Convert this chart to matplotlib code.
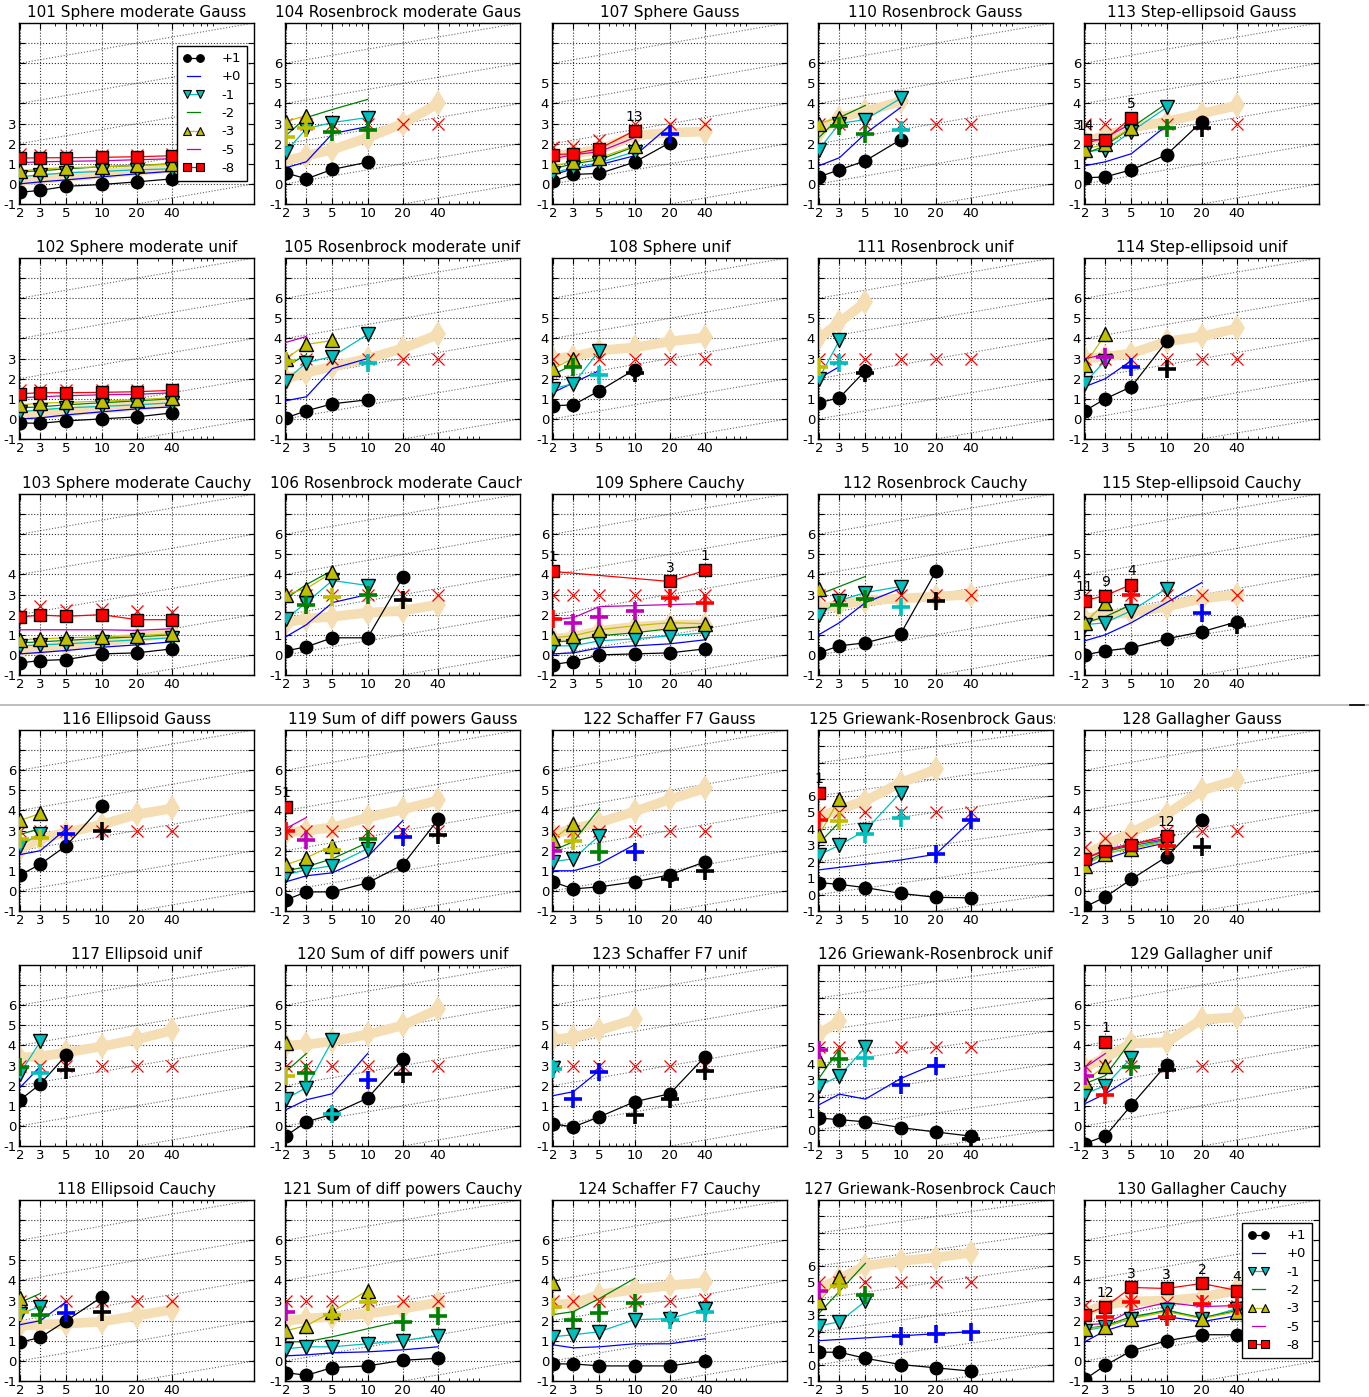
import numpy as np
import matplotlib
matplotlib.use("Agg")
import matplotlib.pyplot as plt
from matplotlib.lines import Line2D
from matplotlib.ticker import NullFormatter
from matplotlib.transforms import Bbox, TransformedBbox

N = None

DIMS = [2, 3, 5, 10, 20, 40]
TARGETS = ["+1", "+0", "-1", "-2", "-3", "-5", "-8"]
TARGET_COLORS = ["k", "b", "c", "g", "y", "m", "r"]
TARGET_MARKERS = ["o", None, "v", None, "^", None, "s"]

GRID_LAYOUT = [
    [101, 104, 107, 110, 113],
    [102, 105, 108, 111, 114],
    [103, 106, 109, 112, 115],
    [116, 119, 122, 125, 128],
    [117, 120, 123, 126, 129],
    [118, 121, 124, 127, 130],
]

TITLES = {
    101: "101 Sphere moderate Gauss", 102: "102 Sphere moderate unif",
    103: "103 Sphere moderate Cauchy", 104: "104 Rosenbrock moderate Gauss",
    105: "105 Rosenbrock moderate unif", 106: "106 Rosenbrock moderate Cauchy",
    107: "107 Sphere Gauss", 108: "108 Sphere unif", 109: "109 Sphere Cauchy",
    110: "110 Rosenbrock Gauss", 111: "111 Rosenbrock unif",
    112: "112 Rosenbrock Cauchy", 113: "113 Step-ellipsoid Gauss",
    114: "114 Step-ellipsoid unif", 115: "115 Step-ellipsoid Cauchy",
    116: "116 Ellipsoid Gauss", 117: "117 Ellipsoid unif",
    118: "118 Ellipsoid Cauchy", 119: "119 Sum of diff powers Gauss",
    120: "120 Sum of diff powers unif", 121: "121 Sum of diff powers Cauchy",
    122: "122 Schaffer F7 Gauss", 123: "123 Schaffer F7 unif",
    124: "124 Schaffer F7 Cauchy", 125: "125 Griewank-Rosenbrock Gauss",
    126: "126 Griewank-Rosenbrock unif", 127: "127 Griewank-Rosenbrock Cauchy",
    128: "128 Gallagher Gauss", 129: "129 Gallagher unif",
    130: "130 Gallagher Cauchy",
}

# upper y limit (log10 of ERT/dim) and highest labelled tick
YLIM_TOP = {fid: 8 for fid in TITLES}
YLIM_TOP.update({125: 10, 126: 10, 127: 10})
YLABEL_TOP = {
    101: 3, 102: 3, 103: 4, 104: 6, 105: 6, 106: 6, 107: 5, 108: 5, 109: 6,
    110: 6, 111: 5, 112: 6, 113: 6, 114: 6, 115: 5, 116: 6, 117: 6, 118: 5,
    119: 6, 120: 6, 121: 6, 122: 6, 123: 5, 124: 6, 125: 6, 126: 5, 127: 6,
    128: 5, 129: 6, 130: 5,
}

# log10(ERT / dim) per target precision, at dims 2, 3, 5, 10, 20, 40
ERT_P1 = {
    101: [-0.42, -0.32, -0.12, -0.03, 0.1, 0.25],
    102: [-0.2, -0.22, -0.1, 0.0, 0.1, 0.3],
    103: [-0.4, -0.28, -0.23, 0.05, 0.1, 0.3],
    104: [0.55, 0.25, 0.72, 1.08, N, N],
    105: [0.05, 0.4, 0.75, 0.95, N, N],
    106: [0.2, 0.4, 0.85, 0.85, 3.85, N],
    107: [0.13, 0.47, 0.52, 1.08, 2.05, N],
    108: [0.65, 0.7, 1.4, 2.45, N, N],
    109: [-0.48, -0.33, 0.0, 0.05, 0.1, 0.3],
    110: [0.35, 0.7, 1.15, 2.2, N, N],
    111: [0.8, 1.05, 2.4, N, N, N],
    112: [0.1, 0.45, 0.6, 1.05, 4.15, N],
    113: [0.3, 0.35, 0.7, 1.45, 3.1, N],
    114: [0.4, 1.0, 1.6, 3.85, N, N],
    115: [0.0, 0.2, 0.35, 0.8, 1.15, 1.65],
    116: [0.78, 1.33, 2.25, 4.2, N, N],
    117: [1.28, 2.08, 3.53, N, N, N],
    118: [0.92, 1.17, 2.0, 3.17, N, N],
    119: [-0.45, -0.05, -0.05, 0.4, 1.3, 3.55],
    120: [-0.5, 0.2, 0.58, 1.38, 3.33, N],
    121: [-0.58, -0.72, -0.33, -0.25, 0.03, 0.13],
    122: [0.45, 0.1, 0.2, 0.45, 0.8, 1.45],
    123: [0.1, -0.05, 0.45, 1.2, 1.6, 3.45],
    124: [-0.15, -0.15, -0.25, -0.25, -0.25, 0.0],
    125: [0.72, 0.62, 0.42, 0.07, -0.17, -0.2],
    126: [0.7, 0.6, 0.47, 0.12, -0.15, -0.4],
    127: [0.75, 0.75, 0.38, 0.0, -0.2, -0.4],
    128: [-0.8, -0.3, 0.58, 1.7, 3.5, N],
    129: [-0.88, -0.5, 1.03, 3.05, N, N],
    130: [-0.92, -0.22, 0.5, 1.0, 1.3, 1.3],
}
ERT_P0 = {
    101: [0.0, 0.1, 0.2, 0.35, 0.5, 0.63],
    102: [0.0, 0.05, 0.2, 0.35, 0.5, 0.6],
    103: [0.05, 0.12, 0.22, 0.38, 0.5, 0.65],
    104: [0.8, 1.1, 2.5, 2.85, N, N],
    105: [0.9, 1.1, 2.5, 3.0, N, N],
    106: [0.9, 1.5, 2.6, 3.0, N, N],
    107: [0.45, 0.75, 0.95, 1.4, 2.9, N],
    108: [1.3, 1.8, 2.4, N, N, N],
    109: [0.05, 0.1, 0.35, 0.45, 0.55, 0.75],
    110: [0.9, 1.3, 2.5, 3.8, N, N],
    111: [2.0, 2.6, N, N, N, N],
    112: [1.0, 1.6, 2.6, 3.3, N, N],
    113: [0.9, 1.1, 1.5, 2.9, N, N],
    114: [1.6, 2.0, 2.9, N, N, N],
    115: [0.7, 1.0, 1.6, 2.6, 3.6, N],
    116: [1.8, 2.0, 3.1, N, N, N],
    117: [1.9, 2.95, N, N, N, N],
    118: [1.8, 2.0, 2.95, N, N, N],
    119: [0.45, 0.75, 0.9, 1.7, 3.5, N],
    120: [0.8, 1.3, 1.6, 3.6, N, N],
    121: [0.25, 0.3, 0.4, 0.45, 0.55, 0.7],
    122: [1.0, 1.0, 1.35, 2.3, N, N],
    123: [1.5, 1.7, 2.75, N, N, N],
    124: [0.8, 0.65, 0.7, 0.85, 0.85, 1.1],
    125: [1.5, N, N, 2.1, 2.45, 4.5],
    126: [1.5, 2.15, 1.85, 3.1, 4.0, N],
    127: [1.45, N, N, N, N, 2.0],
    128: [1.15, 1.6, 2.0, 2.4, N, N],
    129: [1.1, 1.6, 2.4, N, N, N],
    130: [0.95, 1.5, 1.9, 2.2, 1.95, 2.25],
}
ERT_M1 = {
    101: [0.35, 0.45, 0.55, 0.62, 0.7, 0.75],
    102: [0.35, 0.45, 0.55, 0.62, 0.7, 0.8],
    103: [0.45, 0.5, 0.55, 0.65, 0.75, 0.85],
    104: [1.6, 2.75, 3.05, 3.3, N, N],
    105: [1.9, 2.8, 3.1, 4.2, N, N],
    106: [1.8, 2.6, 3.7, 3.45, N, N],
    107: [0.55, 0.8, 1.05, 1.6, N, N],
    108: [1.5, 1.75, 3.4, N, N, N],
    109: [0.45, 0.45, 0.7, 0.8, 0.95, 1.1],
    110: [1.7, 3.0, 3.2, 4.25, N, N],
    111: [2.0, 3.9, N, N, N, N],
    112: [2.0, 2.7, 3.1, 3.4, N, N],
    113: [1.6, 1.7, 2.6, 3.8, N, N],
    114: [1.8, 2.9, N, N, N, N],
    115: [1.5, 1.6, 2.2, 3.3, N, N],
    116: [2.25, 2.85, N, N, N, N],
    117: [2.6, 4.2, N, N, N, N],
    118: [2.35, 2.7, N, N, N, N],
    119: [0.8, 1.05, 1.25, 2.1, N, N],
    120: [1.35, 1.9, 4.25, N, N, N],
    121: [0.6, 0.7, 0.7, 0.85, 1.0, 1.25],
    122: [1.45, 1.6, 2.75, N, N, N],
    123: [2.9, N, N, N, N, N],
    124: [1.2, 1.3, 1.45, 2.05, 2.1, 2.6],
    125: [2.4, 3.0, 3.9, 6.2, N, N],
    126: [2.65, 3.25, 5.0, N, N, N],
    127: [2.35, 2.6, 3.85, N, N, N],
    128: [1.3, 1.85, 2.15, 2.5, N, N],
    129: [1.6, 2.0, 3.4, N, N, N],
    130: [1.5, 1.7, 2.1, 2.55, 2.1, 2.6],
}
ERT_M2 = {
    101: [0.6, 0.65, 0.75, 0.85, 0.92, 1.0],
    102: [0.55, 0.6, 0.7, 0.8, 0.9, 1.0],
    103: [0.6, 0.65, 0.72, 0.82, 0.9, 1.0],
    104: [2.4, 3.3, 3.7, 4.2, N, N],
    105: [2.6, 3.2, N, N, N, N],
    106: [2.8, 3.5, 4.2, N, N, N],
    107: [0.75, 1.0, 1.2, 1.85, N, N],
    108: [2.2, 2.7, N, N, N, N],
    109: [0.65, 0.7, 0.95, 1.1, 1.3, 1.4],
    110: [2.3, 3.3, 3.9, N, N, N],
    112: [3.0, 3.4, 3.9, N, N, N],
    113: [1.5, 1.9, 2.8, 4.0, N, N],
    115: [1.6, 1.9, 2.5, N, N, N],
    116: [2.8, 3.1, N, N, N, N],
    117: [2.9, N, N, N, N, N],
    118: [2.9, 3.35, N, N, N, N],
    119: [1.0, 1.2, 1.6, 2.4, N, N],
    120: [2.7, 3.6, N, N, N, N],
    121: [0.95, 0.95, 1.2, 1.6, 2.0, N],
    122: [2.0, 2.45, 4.1, N, N, N],
    124: [2.3, 2.45, 3.1, 4.1, N, N],
    125: [3.1, 4.4, N, N, N, N],
    126: [3.1, 4.9, N, N, N, N],
    127: [3.1, N, 6.15, N, N, N],
    128: [1.4, 1.95, 2.25, 2.55, N, N],
    129: [2.1, 2.5, 4.25, N, N, N],
    130: [1.6, 1.75, 2.2, 2.5, 2.15, 2.5],
}
ERT_M3 = {
    101: [0.62, 0.75, 0.8, 0.85, 0.92, 0.97],
    102: [0.7, 0.78, 0.82, 0.88, 0.95, 1.05],
    103: [0.75, 0.8, 0.85, 0.9, 0.95, 1.05],
    104: [3.1, 3.4, N, N, N, N],
    105: [3.0, 3.7, 3.9, N, N, N],
    106: [3.0, 3.3, 4.1, N, N, N],
    107: [0.9, 1.1, 1.3, 1.9, N, N],
    108: [2.5, 3.0, N, N, N, N],
    109: [0.85, 0.95, 1.25, 1.45, 1.6, 1.55],
    110: [3.0, 3.3, N, N, N, N],
    112: [3.3, N, N, N, N, N],
    113: [1.7, 2.0, 2.8, N, N, N],
    114: [2.7, 4.2, N, N, N, N],
    115: [1.6, 2.6, N, N, N, N],
    116: [3.5, 3.85, N, N, N, N],
    118: [3.15, N, N, N, N, N],
    119: [1.3, 1.65, 2.25, N, N, N],
    120: [4.1, N, N, N, N, N],
    121: [1.5, 1.75, 2.45, 3.5, N, N],
    122: [2.55, 3.35, N, N, N, N],
    124: [3.85, N, N, N, N, N],
    125: [3.6, 5.8, N, N, N, N],
    126: [4.25, N, N, N, N, N],
    127: [3.8, 5.3, N, N, N, N],
    128: [1.25, 1.85, 2.1, 2.45, N, N],
    129: [2.2, 3.0, N, N, N, N],
    130: [1.6, 1.7, 2.1, 2.45, 2.1, 2.45],
}
ERT_M5 = {
    101: [1.05, 1.1, 1.12, 1.15, 1.2, 1.25],
    102: [1.05, 1.1, 1.15, 1.2, 1.22, 1.3],
    103: [1.25, 1.25, 1.25, 1.25, 1.22, 1.3],
    105: [3.8, 4.1, N, N, N, N],
    107: [1.25, 1.45, 1.6, 2.3, N, N],
    109: [1.75, 1.85, 2.4, 2.45, 2.5, 2.55],
    113: [2.0, 2.3, 3.0, N, N, N],
    114: [3.0, 3.2, N, N, N, N],
    119: [3.1, 3.65, N, N, N, N],
    128: [1.6, 2.05, 2.35, 2.6, N, N],
    129: [2.9, 3.6, N, N, N, N],
    130: [1.8, 1.85, 2.5, 2.9, 2.7, 2.75],
}
ERT_M8 = {
    101: [1.28, 1.3, 1.3, 1.32, 1.35, 1.4],
    102: [1.25, 1.3, 1.3, 1.32, 1.35, 1.42],
    103: [1.88, 1.98, 1.92, 2.0, 1.75, 1.75],
    107: [1.45, 1.5, 1.75, 2.65, N, N],
    109: [4.15, N, N, N, 3.65, 4.2],
    113: [2.2, 2.2, 3.3, N, N, N],
    115: [2.7, 2.95, 3.5, N, N, N],
    119: [4.15, N, N, N, N, N],
    125: [6.2, N, N, N, N, N],
    128: [1.6, 2.0, 2.3, 2.75, N, N],
    129: [N, 4.15, N, N, N, N],
    130: [2.3, 2.7, 3.65, 3.6, 3.85, 3.5],
}

# best 2009 result for precision 1e-8
BEST_2009 = {
    101: [0.15, 0.25, 0.35, 0.5, 0.65, 0.8],
    102: [0.15, 0.25, 0.35, 0.5, 0.65, 0.8],
    103: [0.2, 0.3, 0.45, 0.65, 0.85, 1.1],
    104: [1.15, 1.4, 1.7, 2.3, 3.0, 4.0],
    105: [2.0, 2.3, 2.6, 3.0, 3.5, 4.2],
    106: [1.6, 1.8, 1.9, 2.1, 2.2, 2.5],
    107: [1.4, 1.5, 1.7, 2.4, 2.55, 2.6],
    108: [3.0, 3.1, 3.4, 3.55, 3.85, 4.05],
    109: [0.8, 0.9, 1.2, 1.4, 1.5, 1.5],
    110: [2.6, 3.3, 3.6, 4.1, N, N],
    111: [4.0, 4.8, 5.8, N, N, N],
    112: [2.3, 2.5, 2.7, 2.8, 2.9, 3.0],
    113: [2.1, 2.4, 2.8, 3.1, 3.5, 3.9],
    114: [3.0, 3.1, 3.25, 3.85, 4.1, 4.5],
    115: [1.8, 2.0, 2.1, 2.4, 2.8, 3.0],
    116: [2.1, 2.6, 2.9, 3.3, 3.8, 4.1],
    117: [3.4, 3.45, 3.65, 3.95, 4.3, 4.75],
    118: [1.75, 1.8, 1.85, 1.95, 2.25, 2.55],
    119: [2.9, 3.0, 3.15, 3.65, 4.05, 4.5],
    120: [4.0, 4.05, 4.2, 4.55, 5.0, 5.8],
    121: [2.0, 2.1, 2.2, 2.35, 2.6, 2.9],
    122: [2.8, 3.1, 3.4, 3.95, 4.55, 5.1],
    123: [4.3, 4.4, 4.75, 5.3, N, N],
    124: [2.8, 2.85, 3.3, 3.55, 3.75, 3.9],
    125: [4.7, 5.2, 5.7, 6.8, 7.6, N],
    126: [5.8, 6.6, N, N, N, N],
    127: [4.6, 5.2, 6.0, 6.3, 6.5, 6.8],
    128: [1.8, 2.3, 2.9, 3.8, 5.0, 5.5],
    129: [2.9, 3.4, 4.1, 4.15, 5.3, 5.4],
    130: [2.4, 2.8, 2.95, 3.0, 3.15, 3.55],
}

# maximum number of evaluations in any trial (x marks)
MAX_EVALS = {fid: [3.0] * 6 for fid in TITLES}
MAX_EVALS.update({
    101: [1.5, 1.45, 1.45, 1.45, 1.45, 1.5],
    102: [1.45, 1.45, 1.45, 1.45, 1.45, 1.5],
    103: [2.05, 2.45, 2.25, 2.3, 2.2, 2.15],
    107: [1.85, 1.9, 2.2, 3.0, 3.0, 3.0],
    124: [3.0, 3.0, 3.0, 3.0, 3.0, 3.1],
    125: [5.0] * 6, 126: [5.0] * 6, 127: [5.0] * 6,
    128: [2.2, 2.65, 2.65, 3.0, 3.0, 3.0],
    130: [2.8, 2.75, 3.0, 2.95, 3.0, 2.75],
})

# median run length for the hardest partially reached target: (dim, value, target)
MEDIAN_PARTIAL = {
    104: [(2, 2.35, "-3"), (3, 2.8, "-3"), (5, 2.6, "-2"), (10, 2.7, "-2")],
    105: [(2, 2.9, "-3"), (10, 2.8, "-1")],
    106: [(3, 2.5, "-2"), (5, 2.9, "-3"), (10, 3.0, "-2"), (20, 2.75, "+1")],
    107: [(20, 2.5, "+0")],
    108: [(3, 2.6, "-2"), (5, 2.2, "-1"), (10, 2.3, "+1")],
    109: [(2, 1.8, "-8"), (3, 1.6, "-5"), (5, 1.9, "-5"), (10, 2.2, "-5"),
          (20, 2.85, "-8"), (40, 2.6, "-8")],
    110: [(3, 2.9, "-2"), (5, 2.5, "-2"), (10, 2.7, "-1")],
    111: [(2, 2.6, "-3"), (3, 2.8, "-1"), (5, 2.3, "+1")],
    112: [(3, 2.5, "-2"), (5, 2.8, "-2"), (10, 2.4, "-1"), (20, 2.7, "+1")],
    113: [(10, 2.8, "-2"), (20, 2.8, "+1")],
    114: [(3, 3.1, "-5"), (5, 2.6, "+0"), (10, 2.5, "+1")],
    115: [(5, 3.0, "-8"), (20, 2.1, "+0"), (40, 1.5, "+1")],
    116: [(2, 2.6, "-3"), (3, 2.65, "-3"), (5, 2.85, "+0"), (10, 3.0, "+1")],
    117: [(2, 2.95, "-2"), (3, 2.65, "-1"), (5, 2.8, "+1")],
    118: [(2, 2.45, "-3"), (3, 2.3, "-2"), (5, 2.4, "+0"), (10, 2.45, "+1")],
    119: [(2, 3.0, "-8"), (3, 2.55, "-5"), (5, 2.05, "-3"), (10, 2.6, "-2"),
          (20, 2.7, "+0"), (40, 2.8, "+1")],
    120: [(2, 2.5, "-3"), (3, 2.65, "-2"), (5, 0.6, "-1"), (10, 2.3, "+0"),
          (20, 2.6, "+1")],
    121: [(2, 2.45, "-5"), (5, 2.3, "-3"), (10, 2.95, "-3"), (20, 1.95, "-2"),
          (40, 2.25, "-2")],
    122: [(2, 2.0, "-5"), (3, 2.5, "-3"), (5, 1.95, "-2"), (10, 1.95, "+0"),
          (20, 0.6, "+1"), (40, 1.0, "+1")],
    123: [(2, 2.85, "-1"), (3, 1.35, "+0"), (5, 2.7, "+0"), (10, 0.55, "+1"),
          (20, 1.35, "+1"), (40, 2.75, "+1")],
    124: [(2, 2.7, "-3"), (3, 2.05, "-2"), (5, 2.4, "-2"), (10, 2.9, "-2"),
          (20, 2.05, "-1"), (40, 2.45, "-1")],
    125: [(2, 4.5, "-8"), (3, 4.45, "-3"), (5, 3.7, "-1"), (10, 4.65, "-1"),
          (20, 2.45, "+0"), (40, 4.5, "+0")],
    126: [(2, 4.85, "-5"), (3, 4.3, "-2"), (5, 4.35, "-1"), (10, 2.7, "+0"),
          (20, 3.85, "+0"), (40, -0.6, "+1")],
    127: [(2, 4.5, "-5"), (3, 4.8, "-3"), (5, 4.25, "-2"), (10, 1.75, "+0"),
          (20, 1.85, "+0"), (40, 2.0, "+0")],
    128: [(10, 2.25, "-8"), (20, 2.2, "+1")],
    129: [(2, 2.5, "-5"), (3, 1.55, "-8"), (5, 2.95, "-2"), (10, 2.8, "+1")],
    130: [(3, 2.2, "-8"), (5, 2.95, "-8"), (10, 2.2, "-8"), (20, 2.85, "-8"),
          (40, 2.75, "-8")],
}

# number of successful trials written above ERT symbols: (dim, target, text)
SUCCESS_COUNTS = {
    107: [(10, "-8", "13")],
    109: [(2, "-8", "1"), (20, "-8", "3"), (40, "-8", "1")],
    113: [(2, "-8", "14"), (5, "-8", "5")],
    115: [(2, "-8", "11"), (3, "-8", "9"), (5, "-8", "4")],
    119: [(2, "-8", "1")],
    125: [(2, "-8", "1")],
    128: [(10, "-8", "12")],
    129: [(3, "-8", "1")],
    130: [(3, "-8", "12"), (5, "-8", "3"), (10, "-8", "3"), (20, "-8", "2"),
          (40, "-8", "4")],
}

ERT_BY_TARGET = [ERT_P1, ERT_P0, ERT_M1, ERT_M2, ERT_M3, ERT_M5, ERT_M8]

FIG_W, FIG_H = 1369, 1397
COL_LEFT = [19, 285, 552, 818, 1084]
ROW_BOTTOM = [204, 439, 675, 911, 1146, 1381]
AX_W, AX_H = 235, 181
XLIM = (1.97, 200)

plt.rcParams.update({
    "font.family": ["DejaVu Sans"],
    "xtick.direction": "in", "ytick.direction": "in",
    "xtick.top": True, "ytick.right": True,
    "xtick.major.size": 4, "ytick.major.size": 4,
    "xtick.minor.size": 2, "ytick.minor.size": 2,
    "axes.linewidth": 1.0,
})

fig = plt.figure(figsize=(FIG_W / 100, FIG_H / 100), dpi=100)


def finite(xs, ys):
    pts = [(x, y) for x, y in zip(xs, ys) if y is not None]
    return [p[0] for p in pts], [p[1] for p in pts]


def draw_panel(ax, fid):
    ytop = YLIM_TOP[fid]
    ax.set_xscale("log")
    ax.set_xlim(*XLIM)
    ax.set_ylim(-1, ytop)

    # slanted grid: quadratic scaling
    xs = np.array([1.9, 210.0])
    for k in range(-2, ytop + 1, 2):
        ax.plot(xs, np.log10(xs / 2.0) + k, ls=":", color="0.4", lw=0.8,
                zorder=0.5)

    ax.set_xticks(DIMS)
    ax.set_xticklabels([str(d) for d in DIMS])
    ax.xaxis.set_minor_formatter(NullFormatter())
    yt = list(range(-1, ytop))
    ax.set_yticks(yt)
    ax.set_yticklabels([str(v) if v <= YLABEL_TOP[fid] else "" for v in yt])
    ax.tick_params(labelsize=9.5, pad=2)
    ax.grid(True, which="major", ls=":", color="0.2", lw=0.8)
    ax.set_axisbelow(True)

    # best 2009
    bx, by = finite(DIMS, BEST_2009[fid])
    ax.plot(bx, by, color="wheat", lw=7, marker="d", ms=13, mew=0,
            solid_capstyle="butt", zorder=1)

    # ERT lines and symbols
    for ti, data in enumerate(ERT_BY_TARGET):
        vals = data.get(fid)
        if vals is None:
            continue
        x, y = finite(DIMS, vals)
        col = TARGET_COLORS[ti]
        mk = TARGET_MARKERS[ti]
        ax.plot(x, y, color=col, lw=0.9, zorder=3)
        if mk is not None:
            ms = 9.5 if mk in ("v", "^") else 9
            ax.plot(x, y, ls="none", marker=mk, ms=ms, mfc=col, mec="k",
                    mew=1.0, zorder=4)

    # maximum evaluations
    ax.plot(DIMS, MAX_EVALS[fid], ls="none", marker="x", ms=9, mew=0.9,
            color="r", zorder=2)

    # median of partially successful target
    for d, v, t in MEDIAN_PARTIAL.get(fid, []):
        ax.plot([d], [v], ls="none", marker="+", ms=13, mew=2.6,
                color=TARGET_COLORS[TARGETS.index(t)], zorder=5)

    # numbers of successful trials
    for d, t, txt in SUCCESS_COUNTS.get(fid, []):
        ti = TARGETS.index(t)
        v = ERT_BY_TARGET[ti][fid][DIMS.index(d)]
        ax.annotate(txt, (d, v), xytext=(0, 5), textcoords="offset points",
                    ha="center", va="bottom", fontsize=10, zorder=6)

    # title clipped to the panel's tile
    title = ax.set_title(TITLES[fid], fontsize=11, pad=4)
    x0, y0, w, h = ax.get_position().bounds
    clip = Bbox.from_extents(x0 - 40 / FIG_W, 0, x0 + w + 2 / FIG_W, 1)
    title.set_clip_box(TransformedBbox(clip, fig.transFigure))
    title.set_clip_on(True)


def add_legend(ax):
    handles = []
    for ti, t in enumerate(TARGETS):
        mk = TARGET_MARKERS[ti]
        col = TARGET_COLORS[ti]
        handles.append(Line2D([], [], color=col, lw=0.9, marker=mk, ms=5.5,
                              mfc=col, mec="k", mew=0.8))
    leg = ax.legend(handles, TARGETS, loc="center right", numpoints=2,
                    fontsize=9.5, handlelength=1.6, handletextpad=1.3,
                    labelspacing=0.4, borderpad=0.45, fancybox=False,
                    framealpha=1.0, edgecolor="k", borderaxespad=0.55)
    leg.get_frame().set_linewidth(1.0)
    leg.set_zorder(10)


for r, row in enumerate(GRID_LAYOUT):
    for c, fid in enumerate(row):
        left = COL_LEFT[c] / FIG_W
        bottom = 1 - ROW_BOTTOM[r] / FIG_H
        ax = fig.add_axes([left, bottom, AX_W / FIG_W, AX_H / FIG_H])
        draw_panel(ax, fid)
        if fid in (101, 130):
            add_legend(ax)

# separator between the two groups of functions
ysep = 1 - 705 / FIG_H
fig.add_artist(Line2D([0, 1], [ysep, ysep], transform=fig.transFigure,
                      color="0.7", lw=1.2))
fig.add_artist(Line2D([1350 / FIG_W, 1364 / FIG_W], [ysep, ysep],
                      transform=fig.transFigure, color="k", lw=1.2))

fig.savefig("out.png", dpi=100)
